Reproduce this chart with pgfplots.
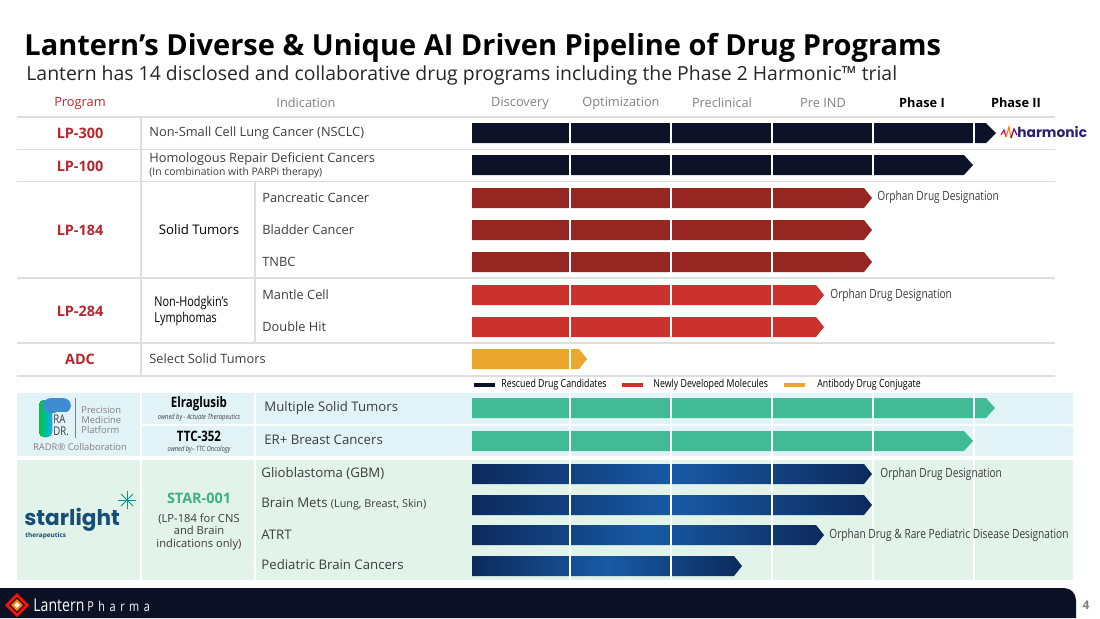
\documentclass[border=0pt]{standalone}
\usepackage{pgfplots}
\pgfplotsset{compat=1.18}
\usepackage{fontspec}
\setmainfont{Open Sans}
\newfontfamily\cond{Open Sans}[FakeStretch=0.8]
\newfontfamily\pop{Poppins}
\definecolor{navy}{RGB}{14,18,40}
\definecolor{dred}{RGB}{150,38,34}
\definecolor{lred}{RGB}{203,50,45}
\definecolor{ora}{RGB}{234,166,46}
\definecolor{grn}{RGB}{64,187,148}
\definecolor{stA}{RGB}{12,42,92}
\definecolor{stB}{RGB}{24,90,165}
\definecolor{stC}{RGB}{16,62,125}
\definecolor{pblue}{RGB}{226,243,248}
\definecolor{pgreen}{RGB}{226,243,233}
\definecolor{progred}{RGB}{183,38,44}
\definecolor{hgrey}{RGB}{128,128,128}
\definecolor{tgrey}{RGB}{60,60,60}
\definecolor{sep}{RGB}{222,222,222}
\definecolor{foot}{RGB}{13,17,38}
\definecolor{stargrn}{RGB}{60,176,127}
\definecolor{harm}{RGB}{42,32,112}
\definecolor{starlt}{RGB}{22,78,120}
\begin{document}
\begin{tikzpicture}
\begin{axis}[x=0.5pt,y=0.5pt,y dir=reverse,xmin=0,xmax=1100,ymin=0,ymax=618,
  hide axis,clip=false]
\path (axis cs:0,0) rectangle (axis cs:1100,618);
% ---------- title ----------
\node[anchor=base west,inner sep=0pt,font=\bfseries\fontsize{14.5}{16}\selectfont] at (axis cs:24,55) {Lantern’s Diverse \& Unique AI Driven Pipeline of Drug Programs};
\node[anchor=base west,inner sep=0pt,font=\fontsize{9.7}{12}\selectfont,text=black!85] at (axis cs:26,80) {Lantern has 14 disclosed and collaborative drug programs including the Phase 2 Harmonic™ trial};
% ---------- header ----------
\def\hf{\fontsize{6.4}{7}\selectfont}
\node[font=\hf,text=progred] at (axis cs:80,103) {Program};
\node[font=\hf,text=hgrey] at (axis cs:306,103) {Indication};
\node[font=\hf,text=hgrey] at (axis cs:520,103) {Discovery};
\node[font=\hf,text=hgrey] at (axis cs:621,103) {Optimization};
\node[font=\hf,text=hgrey] at (axis cs:722,103) {Preclinical};
\node[font=\hf,text=hgrey] at (axis cs:823,103) {Pre IND};
\node[font=\hf\bfseries,text=black] at (axis cs:922,103) {Phase I};
\node[font=\hf\bfseries,text=black] at (axis cs:1016,103) {Phase II};
% ---------- panels ----------
\fill[pblue] (axis cs:17,393) rectangle (axis cs:1073,456);
\fill[pgreen] (axis cs:17,460) rectangle (axis cs:1073,580);
% ---------- bars ----------
\addplot[draw=none,fill=navy] coordinates {(472,123)(986,123)(996,133)(986,143)(472,143)};
\addplot[draw=none,fill=navy] coordinates {(472,155)(964,155)(973,165)(964,175)(472,175)};
\addplot[draw=none,fill=dred] coordinates {(472,188)(864,188)(872,198)(864,208)(472,208)};
\addplot[draw=none,fill=dred] coordinates {(472,220)(864,220)(872,230)(864,240)(472,240)};
\addplot[draw=none,fill=dred] coordinates {(472,252)(864,252)(872,262)(864,272)(472,272)};
\addplot[draw=none,fill=lred] coordinates {(472,285)(816,285)(824,295)(816,305)(472,305)};
\addplot[draw=none,fill=lred] coordinates {(472,317)(816,317)(824,327)(816,337)(472,337)};
\addplot[draw=none,fill=ora] coordinates {(472,349)(579,349)(587,359)(579,369)(472,369)};
\addplot[draw=none,fill=grn] coordinates {(472,398)(986,398)(995,408)(986,418)(472,418)};
\addplot[draw=none,fill=grn] coordinates {(472,431)(964,431)(973,441)(964,451)(472,451)};
\addplot[draw=none,left color=stA,right color=stA,middle color=stB] coordinates {(472,464)(864,464)(872,474)(864,484)(472,484)};
\addplot[draw=none,left color=stA,right color=stA,middle color=stB] coordinates {(472,495)(864,495)(872,505)(864,515)(472,515)};
\addplot[draw=none,left color=stA,right color=stA,middle color=stB] coordinates {(472,525)(816,525)(824,535)(816,545)(472,545)};
\addplot[draw=none,left color=stA,right color=stA,middle color=stB] coordinates {(472,556)(734,556)(742,566)(734,576)(472,576)};
% ---------- stage dividers ----------
\addplot[white,line width=0.8pt] coordinates {(570,117)(570,376)};
\addplot[white,line width=0.8pt] coordinates {(671,117)(671,376)};
\addplot[white,line width=0.8pt] coordinates {(772,117)(772,376)};
\addplot[white,line width=0.8pt] coordinates {(873,117)(873,376)};
\addplot[white,line width=0.8pt] coordinates {(974,117)(974,376)};
\addplot[white,line width=0.8pt] coordinates {(570,393)(570,580)};
\addplot[white,line width=0.8pt] coordinates {(671,393)(671,580)};
\addplot[white,line width=0.8pt] coordinates {(772,393)(772,580)};
\addplot[white,line width=0.8pt] coordinates {(873,393)(873,580)};
\addplot[white,line width=0.8pt] coordinates {(974,393)(974,580)};
% white panel grid
\draw[white,line width=1pt] (axis cs:141,393) -- (axis cs:141,580);
\draw[white,line width=1pt] (axis cs:255,393) -- (axis cs:255,580);
\draw[white,line width=1pt] (axis cs:141,424.5) -- (axis cs:1073,424.5);
% ---------- table separators ----------
\draw[sep,line width=0.8pt] (axis cs:17,117) -- (axis cs:1055,117);
\draw[sep,line width=0.8pt] (axis cs:17,149.5) -- (axis cs:1055,149.5);
\draw[sep,line width=0.8pt] (axis cs:17,181.5) -- (axis cs:1055,181.5);
\draw[sep,line width=0.8pt] (axis cs:17,278) -- (axis cs:1055,278);
\draw[sep,line width=0.8pt] (axis cs:17,343) -- (axis cs:1055,343);
\draw[sep,line width=0.8pt] (axis cs:17,376) -- (axis cs:1055,376);
\draw[sep,line width=0.8pt] (axis cs:141,117) -- (axis cs:141,376);
\draw[sep,line width=0.8pt] (axis cs:255,181.5) -- (axis cs:255,343);
% ---------- program labels ----------
\def\pf{\bfseries\fontsize{7.2}{8}\selectfont}
\node[font=\pf,text=progred] at (axis cs:80,133) {LP-300};
\node[font=\pf,text=progred] at (axis cs:80,166) {LP-100};
\node[font=\pf,text=progred] at (axis cs:80,230) {LP-184};
\node[font=\pf,text=progred] at (axis cs:80,311) {LP-284};
\node[font=\pf,text=progred] at (axis cs:80,359) {ADC};
% ---------- indications ----------
\def\inf{\fontsize{6.4}{7}\selectfont}
\node[anchor=west,font=\inf,text=tgrey,inner sep=0pt] at (axis cs:149,133) {Non-Small Cell Lung Cancer (NSCLC)};
\node[anchor=west,font=\inf,text=tgrey,inner sep=0pt] at (axis cs:149,159) {Homologous Repair Deficient Cancers};
\node[anchor=west,font=\fontsize{5.2}{5.5}\selectfont,text=tgrey,inner sep=0pt] at (axis cs:149,172.5) {(In combination with PARPi therapy)};
\node[font=\fontsize{6.6}{7}\selectfont,text=black] at (axis cs:199,230) {Solid Tumors};
\node[anchor=west,font=\cond\fontsize{6.8}{9}\selectfont,text=black,align=left,inner sep=0pt] at (axis cs:154,311) {Non-Hodgkin’s\\[-1pt]Lymphomas};
\node[anchor=west,font=\inf,text=tgrey,inner sep=0pt] at (axis cs:262,198) {Pancreatic Cancer};
\node[anchor=west,font=\inf,text=tgrey,inner sep=0pt] at (axis cs:262,230) {Bladder Cancer};
\node[anchor=west,font=\inf,text=tgrey,inner sep=0pt] at (axis cs:262,262) {TNBC};
\node[anchor=west,font=\inf,text=tgrey,inner sep=0pt] at (axis cs:262,295) {Mantle Cell};
\node[anchor=west,font=\inf,text=tgrey,inner sep=0pt] at (axis cs:262,327) {Double Hit};
\node[anchor=west,font=\inf,text=tgrey,inner sep=0pt] at (axis cs:149,359) {Select Solid Tumors};
% orphan labels
\def\of{\cond\fontsize{6.35}{7}\selectfont}
\node[anchor=west,font=\of,text=tgrey,inner sep=0pt] at (axis cs:877,197) {Orphan Drug Designation};
\node[anchor=west,font=\of,text=tgrey,inner sep=0pt] at (axis cs:830,295) {Orphan Drug Designation};
\node[anchor=west,font=\of,text=tgrey,inner sep=0pt] at (axis cs:880,474) {Orphan Drug Designation};
\node[anchor=west,font=\of,text=tgrey,inner sep=0pt] at (axis cs:829,535) {Orphan Drug \& Rare Pediatric Disease Designation};
% ---------- harmonic logo ----------
\draw[line width=0.6pt,color=magenta!70!red] (axis cs:1001,135) -- (axis cs:1004,130) -- (axis cs:1006,137);
\draw[line width=0.6pt,color=orange] (axis cs:1006,137) -- (axis cs:1009,127) -- (axis cs:1011,138);
\draw[line width=0.6pt,color=violet] (axis cs:1011,138) -- (axis cs:1014,129) -- (axis cs:1017,135);
\node[anchor=west,font=\pop\bfseries\fontsize{6.9}{8}\selectfont,text=harm,inner sep=0pt] at (axis cs:1017,132) {harmonic};
% ---------- legend ----------
\def\lf{\cond\fontsize{5.5}{6}\selectfont}
\addplot[navy,line width=1.6pt] coordinates {(474,385)(495,385)};
\addplot[lred,line width=1.6pt] coordinates {(622,385)(643,385)};
\addplot[ora,line width=1.6pt] coordinates {(784,385)(805,385)};
\node[anchor=west,font=\lf,text=black,inner sep=0pt] at (axis cs:501,385) {Rescued Drug Candidates};
\node[anchor=west,font=\lf,text=black,inner sep=0pt] at (axis cs:653,385) {Newly Developed Molecules};
\node[anchor=west,font=\lf,text=black,inner sep=0pt] at (axis cs:817,385) {Antibody Drug Conjugate};
% ---------- RADR block ----------
\fill[left color=green!55!teal,right color=cyan!70!blue,rounded corners=2.5pt] (axis cs:39,400) rectangle (axis cs:52,437);
\fill[color=cyan!60!blue!80,rounded corners=4pt] (axis cs:43,398) rectangle (axis cs:71,413);
\fill[pblue,rounded corners=2pt] (axis cs:53,412) rectangle (axis cs:72,440);
\node[anchor=west,font=\cond\fontsize{6}{6}\selectfont,text=tgrey,inner sep=0pt] at (axis cs:53,419) {RA};
\node[anchor=west,font=\cond\fontsize{6}{6}\selectfont,text=tgrey,inner sep=0pt] at (axis cs:53,431) {DR.};
\draw[hgrey,line width=0.5pt] (axis cs:75,398) -- (axis cs:75,438);
\node[anchor=west,font=\fontsize{4.7}{5}\selectfont,text=hgrey,inner sep=0pt] at (axis cs:81,410) {Precision};
\node[anchor=west,font=\fontsize{4.7}{5}\selectfont,text=hgrey,inner sep=0pt] at (axis cs:81,420) {Medicine};
\node[anchor=west,font=\fontsize{4.7}{5}\selectfont,text=hgrey,inner sep=0pt] at (axis cs:81,430) {Platform};
\node[font=\fontsize{4.7}{5}\selectfont,text=hgrey,inner sep=0pt] at (axis cs:80,447) {RADR® Collaboration};
\node[font=\cond\bfseries\fontsize{7.2}{8}\selectfont,text=black,inner sep=0pt] at (axis cs:199,404) {Elraglusib};
\node[font=\cond\itshape\fontsize{3.6}{4}\selectfont,text=tgrey,inner sep=0pt] at (axis cs:199,418) {owned by - Actuate Therapeutics};
\node[font=\cond\bfseries\fontsize{7.2}{8}\selectfont,text=black,inner sep=0pt] at (axis cs:199,436) {TTC-352};
\node[font=\cond\itshape\fontsize{3.6}{4}\selectfont,text=tgrey,inner sep=0pt] at (axis cs:199,450) {owned by– TTC Oncology};
\node[anchor=west,font=\fontsize{6.6}{7}\selectfont,text=tgrey,inner sep=0pt] at (axis cs:264,408) {Multiple Solid Tumors};
\node[anchor=west,font=\fontsize{6.6}{7}\selectfont,text=tgrey,inner sep=0pt] at (axis cs:264,440) {ER+ Breast Cancers};
% ---------- starlight block ----------
\node[anchor=base west,font=\pop\bfseries\fontsize{10.8}{12}\selectfont,text=starlt,inner sep=0pt] at (axis cs:24,525) {starlight};
\node[anchor=west,font=\bfseries\fontsize{3.2}{4}\selectfont,text=starlt,inner sep=0pt] at (axis cs:25,536) {therapeutics};
\draw[teal!80!cyan,line width=0.4pt] (axis cs:118,500) -- (axis cs:136,500);
\draw[teal!80!cyan,line width=0.4pt] (axis cs:127,491) -- (axis cs:127,509);
\draw[teal!80!cyan,line width=0.4pt] (axis cs:121,494) -- (axis cs:133,506);
\draw[teal!80!cyan,line width=0.4pt] (axis cs:121,506) -- (axis cs:133,494);
\node[font=\bfseries\fontsize{7.2}{8}\selectfont,text=stargrn] at (axis cs:199,498) {STAR-001};
\node[font=\fontsize{5.6}{6.1}\selectfont,text=tgrey,align=center] at (axis cs:199,532) {(LP-184 for CNS\\and Brain\\indications only)};
\node[anchor=west,font=\fontsize{6.6}{7}\selectfont,text=tgrey,inner sep=0pt] at (axis cs:261,474) {Glioblastoma (GBM)};
\node[anchor=west,font=\fontsize{6.6}{7}\selectfont,text=tgrey,inner sep=0pt] at (axis cs:261,504) {Brain Mets {\fontsize{5.4}{6}\selectfont(Lung, Breast, Skin)}};
\node[anchor=west,font=\fontsize{6.6}{7}\selectfont,text=tgrey,inner sep=0pt] at (axis cs:261,535) {ATRT};
\node[anchor=west,font=\fontsize{6.6}{7}\selectfont,text=tgrey,inner sep=0pt] at (axis cs:261,565) {Pediatric Brain Cancers};
% ---------- footer ----------
\fill[foot] (axis cs:0,588) [rounded corners=6pt] -- (axis cs:1076,588) [sharp corners] -- (axis cs:1076,618) -- (axis cs:0,618) -- cycle;
\fill[red!85!orange] (axis cs:17,593) -- (axis cs:29,605) -- (axis cs:17,617) -- (axis cs:5,605) -- cycle;
\fill[foot] (axis cs:17,597) -- (axis cs:25,605) -- (axis cs:17,613) -- (axis cs:9,605) -- cycle;
\fill[orange] (axis cs:17,599) -- (axis cs:23,605) -- (axis cs:17,611) -- (axis cs:11,605) -- cycle;
\fill[white!90!orange] (axis cs:17,602) -- (axis cs:20,605) -- (axis cs:17,608) -- (axis cs:14,605) -- cycle;
\node[anchor=west,font=\cond\fontsize{8.8}{9}\selectfont,text=white,inner sep=0pt] at (axis cs:33,605) {Lantern};
\node[anchor=west,font=\cond\fontsize{6.8}{7}\selectfont,text=white,inner sep=0pt] at (axis cs:87,606) {P\,\,h\,\,a\,\,r\,\,m\,\,a};
\node[font=\bfseries\fontsize{6}{7}\selectfont,text=hgrey] at (axis cs:1086,605) {4};
\end{axis}
\end{tikzpicture}
\end{document}
